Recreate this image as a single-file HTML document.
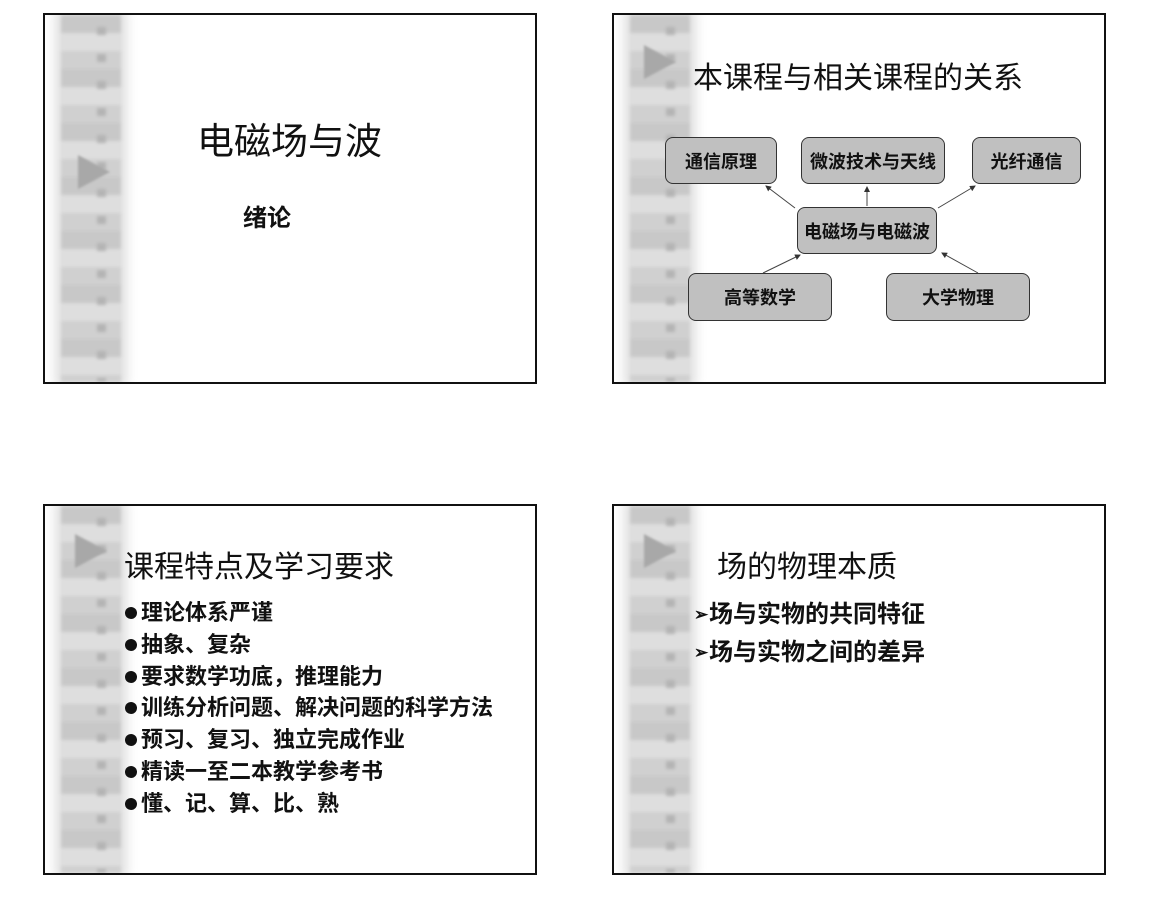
<!DOCTYPE html>
<html><head><meta charset="utf-8"><style>
body{margin:0;width:1157px;height:910px;background:#fff;position:relative;overflow:hidden;font-family:"Liberation Sans","Noto Sans CJK SC",sans-serif}
.s{position:absolute;width:490px;height:367px;border:2px solid #111;background:#fff;overflow:hidden}
.strip{position:absolute;left:16px;top:0;width:60px;height:100%;
background:repeating-linear-gradient(180deg,#c8c8c8 0,#c8c8c8 18px,#dedede 18px,#dedede 36px,#d0d0d0 36px,#d0d0d0 54px);
box-shadow:0 0 10px 6px #e0e0e0;filter:blur(1.5px)}
.strip:after{content:"";position:absolute;left:36px;top:0;width:9px;height:100%;
background:repeating-linear-gradient(180deg,transparent 0,transparent 12px,#b4b4b4 12px,#b4b4b4 20px,transparent 20px,transparent 27px)}
.tri{position:absolute;width:0;height:0;border-top:17px solid transparent;border-bottom:17px solid transparent;border-left:32px solid #a8a8a8;filter:blur(1px)}
.t{position:absolute;white-space:nowrap;color:#111}
.b{position:absolute;background:#c0c0c0;border:1.5px solid #333;border-radius:8px;display:flex;align-items:center;justify-content:center;font-weight:bold;font-size:18px;color:#111;box-sizing:border-box}
.d{display:inline-block;width:12px;height:12px;border-radius:50%;background:#111;margin-right:4px;vertical-align:1px}
.ar{display:inline-block;width:15px;font-size:17px;vertical-align:2px}
</style></head><body>
<div class="s" style="left:43px;top:13px">
<div class="strip"></div><div class="tri" style="left:33px;top:140px"></div>
<div class="t" style="left:152px;top:96px;font-size:37px">电磁场与波</div>
<div class="t" style="left:198px;top:183px;font-size:24px;font-weight:bold">绪论</div>
</div>
<div class="s" style="left:612px;top:13px">
<div class="strip"></div><div class="tri" style="left:30px;top:30px"></div>
<div class="t" style="left:79px;top:38px;font-size:30px">本课程与相关课程的关系</div>
</div>
<svg style="position:absolute;left:0;top:0" width="1157" height="910">
<defs><marker id="a" markerWidth="6" markerHeight="6" refX="5" refY="3" orient="auto"><path d="M0,0L6,3L0,6z" fill="#333"/></marker></defs>
<g stroke="#444" stroke-width="1" marker-end="url(#a)">
<line x1="795" y1="208" x2="766" y2="186"/>
<line x1="867" y1="206" x2="867" y2="187"/>
<line x1="938" y1="208" x2="975" y2="186"/>
<line x1="763" y1="273" x2="800" y2="255"/>
<line x1="978" y1="273" x2="942" y2="253"/>
</g></svg>
<div class="b" style="left:665px;top:137px;width:112px;height:47px">通信原理</div>
<div class="b" style="left:801px;top:137px;width:144px;height:47px">微波技术与天线</div>
<div class="b" style="left:972px;top:137px;width:109px;height:47px">光纤通信</div>
<div class="b" style="left:797px;top:207px;width:140px;height:47px">电磁场与电磁波</div>
<div class="b" style="left:688px;top:273px;width:144px;height:48px">高等数学</div>
<div class="b" style="left:886px;top:273px;width:144px;height:48px">大学物理</div>
<div class="s" style="left:43px;top:504px">
<div class="strip"></div><div class="tri" style="left:30px;top:28px"></div>
<div class="t" style="left:79px;top:36px;font-size:30px">课程特点及学习要求</div>
<div class="t" style="left:80px;top:91px;font-size:22px;font-weight:bold;line-height:31.8px"><span class="d"></span>理论体系严谨<br><span class="d"></span>抽象、复杂<br><span class="d"></span>要求数学功底，推理能力<br><span class="d"></span>训练分析问题、解决问题的科学方法<br><span class="d"></span>预习、复习、独立完成作业<br><span class="d"></span>精读一至二本教学参考书<br><span class="d"></span>懂、记、算、比、熟</div>
</div>
<div class="s" style="left:612px;top:504px">
<div class="strip"></div><div class="tri" style="left:30px;top:28px"></div>
<div class="t" style="left:103px;top:36px;font-size:30px">场的物理本质</div>
<div class="t" style="left:80px;top:90px;font-size:24px;font-weight:bold;line-height:38px"><span class="ar">➢</span>场与实物的共同特征<br><span class="ar">➢</span>场与实物之间的差异</div>
</div>
</body></html>
